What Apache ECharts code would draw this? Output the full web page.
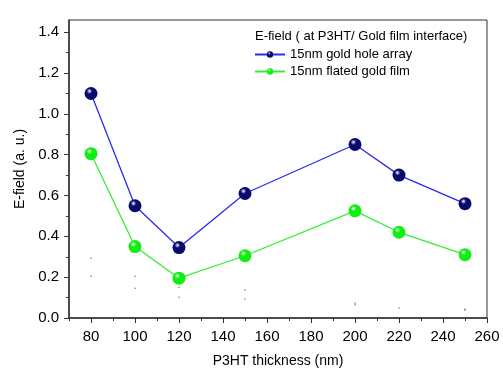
<!DOCTYPE html>
<html>
<head>
<meta charset="utf-8">
<script src="https://cdn.jsdelivr.net/npm/echarts@6/dist/echarts.min.js"></script>
<style>
  html, body { margin: 0; padding: 0; background: #fff; }
  #chart { width: 503px; height: 373px; }
</style>
</head>
<body>
<div id="chart"></div>
<script>
// values
const thickness = [80, 100, 120, 150, 200, 220, 250];
const holeArray = [1.10, 0.55, 0.345, 0.61, 0.85, 0.70, 0.56];
const flatFilm = [0.805, 0.35, 0.195, 0.305, 0.525, 0.42, 0.31];
// stray little dots below the points
const strayDots = [
  [80, 0.293], [80, 0.205], [100, 0.205], [100, 0.146],
  [120, 0.151], [120, 0.102], [150, 0.137], [150, 0.093],
  [200, 0.073], [200, 0.065], [220, 0.049], [250, 0.044], [250, 0.038]
];
const xMajor = [80, 100, 120, 140, 160, 180, 200, 220, 240, 260];
const xMinor = [70, 90, 110, 130, 150, 170, 190, 210, 230, 250];
const yMajor = [0, 0.2, 0.4, 0.6, 0.8, 1.0, 1.2, 1.4];
const yMinor = [0.1, 0.3, 0.5, 0.7, 0.9, 1.1, 1.3];

const font = 'Liberation Sans, Arial, sans-serif';
const axisColor = '#333';

function sphere(dark) {
  return new echarts.graphic.RadialGradient(0.38, 0.32, 0.7, [
    { offset: 0, color: '#ffffff' },
    { offset: 0.3, color: dark },
    { offset: 1, color: dark }
  ]);
}

const myChart = echarts.init(document.getElementById('chart'));

const option = {
  animation: false,
  title: {
    text: 'E-field ( at P3HT/ Gold film interface)',
    left: 250,
    top: 25,
    textStyle: { fontFamily: font, fontSize: 13, fontWeight: 'normal', color: '#000' }
  },
  legend: {
    data: ['15nm gold hole array', '15nm flated gold film'],
    orient: 'vertical',
    left: 249,
    top: 43,
    itemWidth: 30,
    itemHeight: 8,
    itemGap: 4,
    textStyle: { fontFamily: font, fontSize: 13, color: '#000' }
  },
  grid: {
    left: 69,
    right: 16,
    top: 20,
    bottom: 53,
    show: true,
    borderColor: axisColor,
    borderWidth: 1
  },
  xAxis: [
    {
      type: 'value',
      min: 70,
      max: 260,
      name: 'P3HT thickness (nm)',
      nameLocation: 'middle',
      nameGap: 36,
      nameTextStyle: { fontFamily: font, fontSize: 14, color: '#000' },
      axisLine: { lineStyle: { color: axisColor, width: 1.5 } },
      axisTick: { customValues: xMajor, length: 5, lineStyle: { color: axisColor } },
      axisLabel: { customValues: xMajor, fontFamily: font, fontSize: 15, color: '#000', margin: 11 },
      splitLine: { show: false }
    },
    {
      type: 'value',
      min: 70,
      max: 260,
      position: 'bottom',
      axisLine: { show: false },
      axisTick: { customValues: xMinor, length: 3, lineStyle: { color: axisColor } },
      axisLabel: { show: false },
      splitLine: { show: false }
    }
  ],
  yAxis: [
    {
      type: 'value',
      min: 0,
      max: 1.46,
      name: 'E-field (a. u.)',
      nameLocation: 'middle',
      nameGap: 41,
      nameTextStyle: { fontFamily: font, fontSize: 14, color: '#000' },
      axisLine: { show: true, lineStyle: { color: axisColor, width: 1.5 } },
      axisTick: { show: true, customValues: yMajor, length: 5, lineStyle: { color: axisColor } },
      axisLabel: {
        customValues: yMajor,
        fontFamily: font, fontSize: 15, color: '#000', margin: 10,
        formatter: v => v.toFixed(1)
      },
      splitLine: { show: false }
    },
    {
      type: 'value',
      min: 0,
      max: 1.46,
      position: 'left',
      axisLine: { show: false },
      axisTick: { show: true, customValues: yMinor, length: 3, lineStyle: { color: axisColor } },
      axisLabel: { show: false },
      splitLine: { show: false }
    }
  ],
  series: [
    {
      name: '15nm gold hole array',
      type: 'line',
      data: thickness.map((x, i) => [x, holeArray[i]]),
      symbol: 'circle',
      symbolSize: 13,
      lineStyle: { color: '#2a2af0', width: 1.3 },
      itemStyle: { color: sphere('#0a0a6e'), borderWidth: 0 },
      z: 3
    },
    {
      name: '15nm flated gold film',
      type: 'line',
      data: thickness.map((x, i) => [x, flatFilm[i]]),
      symbol: 'circle',
      symbolSize: 13,
      lineStyle: { color: '#33ee33', width: 1.3 },
      itemStyle: { color: sphere('#11ee11'), borderWidth: 0 },
      z: 3
    },
    {
      name: 'dots',
      type: 'scatter',
      data: strayDots,
      symbolSize: 1.5,
      itemStyle: { color: '#226622' },
      silent: true
    }
  ]
};

myChart.setOption(option);
</script>
</body>
</html>
